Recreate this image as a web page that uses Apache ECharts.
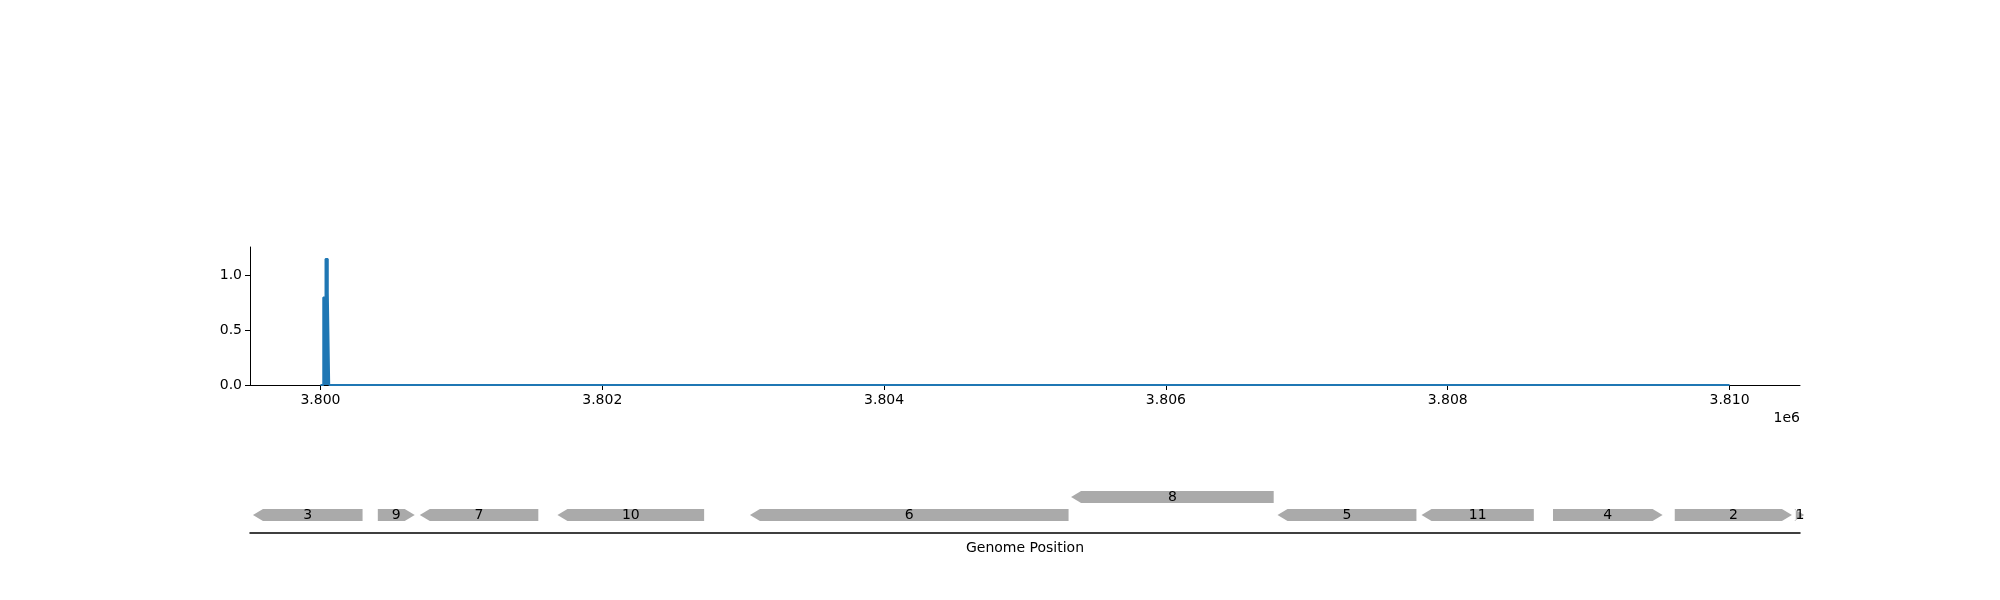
<!DOCTYPE html>
<html>
<head>
<meta charset="utf-8">
<script src="https://cdn.jsdelivr.net/npm/echarts@6/dist/echarts.min.js"></script>
<style>html,body{margin:0;background:#fff}#c{width:2000px;height:600px}</style>
</head>
<body>
<div id="c"></div>
<script>
// coverage trace
const covPos = [3800000, 3800020, 3800020, 3800036, 3800036, 3800052, 3800052, 3800062, 3800062, 3810000];
const covVal = [0, 0, 0.8, 0.8, 1.15, 1.15, 0.85, 0.85, 0, 0];
const xTicks = [3800000, 3802000, 3804000, 3806000, 3808000, 3810000];
const yTicks = [0, 0.5, 1.0];

// genes: name, start, end, strand, row
const geneNames = ['3', '9', '7', '10', '6', '8', '5', '11', '4', '2', '1'];
const geneStart = [3799521, 3800407, 3800705, 3801682, 3803048, 3805327, 3806792, 3807814, 3808747, 3809611, 3810470];
const geneEnd = [3800299, 3800669, 3801546, 3802723, 3805309, 3806765, 3807778, 3808611, 3809525, 3810443, 3810530];
const geneStrand = [-1, 1, -1, -1, -1, -1, -1, -1, 1, 1, 1];
const geneRow = [1, 1, 1, 1, 1, 2, 1, 1, 1, 1, 1];

const font = 'DejaVu Sans';
const chart = echarts.init(document.getElementById('c'));
const genes = geneNames.map((n, i) => [geneStart[i], geneEnd[i], geneRow[i], geneStrand[i], n]);

chart.setOption({
  animation: false,
  textStyle: {fontFamily: font},
  grid: [
    {left: 250, width: 1550, top: 247, height: 138},
    {left: 250, width: 1550, top: 470, height: 63}
  ],
  xAxis: [
    {gridIndex: 0, type: 'value', min: 3799500, max: 3810500,
      axisLine: {lineStyle: {color: '#000'}},
      axisTick: {customValues: xTicks, length: 5, lineStyle: {color: '#000'}},
      axisLabel: {customValues: xTicks, color: '#000', fontSize: 14, margin: 8,
        formatter: v => (v / 1e6).toFixed(3)},
      splitLine: {show: false}},
    {gridIndex: 1, type: 'value', min: 3799500, max: 3810500,
      axisLine: {lineStyle: {color: '#000', width: 1.5}},
      axisTick: {show: false}, axisLabel: {show: false}, splitLine: {show: false},
      name: 'Genome Position', nameLocation: 'middle', nameGap: 8,
      nameTextStyle: {color: '#000', fontSize: 14}}
  ],
  yAxis: [
    {gridIndex: 0, type: 'value', min: 0, max: 1.26,
      axisLine: {show: true, lineStyle: {color: '#000'}},
      axisTick: {show: true, customValues: yTicks, length: 5, lineStyle: {color: '#000'}},
      axisLabel: {customValues: yTicks, color: '#000', fontSize: 14, formatter: v => v.toFixed(1)},
      splitLine: {show: false}},
    {gridIndex: 1, type: 'value', min: 0, max: 3.5, show: false}
  ],
  graphic: [{type: 'text', right: 200, top: 411,
    style: {text: '1e6', fontSize: 14, fill: '#000', fontFamily: font}}],
  series: [
    {type: 'line', xAxisIndex: 0, yAxisIndex: 0, symbol: 'none',
      data: covPos.map((p, i) => [p, covVal[i]]),
      lineStyle: {color: '#1f77b4', width: 2},
      areaStyle: {color: '#1f77b4', opacity: 1}},
    {type: 'custom', xAxisIndex: 1, yAxisIndex: 1, data: genes,
      renderItem: (params, api) => {
        const a = api.coord([api.value(0), api.value(2)]);
        const b = api.coord([api.value(1), api.value(2)]);
        const strand = api.value(3);
        const h = 6, head = 10;
        const x0 = a[0], x1 = b[0], y = a[1];
        let pts;
        if (strand > 0) {
          pts = [[x0, y - h], [x1 - head, y - h], [x1, y], [x1 - head, y + h], [x0, y + h]];
        } else {
          pts = [[x0 + head, y - h], [x1, y - h], [x1, y + h], [x0 + head, y + h], [x0, y]];
        }
        return {type: 'group', children: [
          {type: 'polygon', shape: {points: pts}, style: {fill: '#aaaaaa'}},
          {type: 'text', style: {text: api.value(4), x: (x0 + x1) / 2, y: y,
            align: 'center', verticalAlign: 'middle', fontSize: 14, fill: '#000', fontFamily: font}}
        ]};
      }}
  ]
});
</script>
</body>
</html>
